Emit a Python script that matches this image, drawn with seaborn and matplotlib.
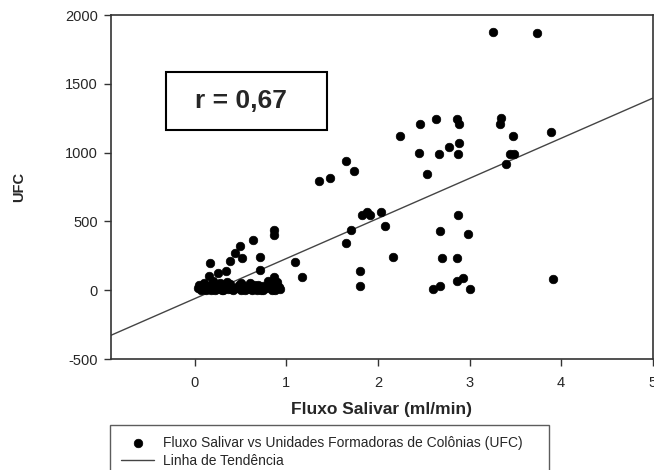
import numpy as np
import pandas as pd
import seaborn as sns
import matplotlib.pyplot as plt
from matplotlib.patches import Rectangle

# pontos: fluxo salivar (ml/min) e UFC
fluxo = [3.26, 3.74, 2.24, 2.46, 2.63, 2.86, 2.89, 3.34, 3.33, 3.48, 3.89,
         2.45, 2.67, 2.78, 2.89, 2.87, 2.54, 3.44, 3.49, 3.40,
         1.36, 1.48, 1.65, 1.74, 1.83, 1.88, 1.91, 2.03, 1.71, 2.08, 1.65,
         2.87, 2.68, 2.98, 1.09, 1.17, 1.80, 1.80, 2.16, 2.70, 2.86,
         2.60, 2.68, 2.86, 2.93, 3.01, 3.91,
         0.86, 0.86, 0.64, 0.49, 0.44, 0.52, 0.39, 0.17, 0.71, 0.71, 0.34,
         0.16, 0.25, 0.86,
         0.03, 0.05, 0.08, 0.10, 0.12, 0.14, 0.17, 0.19, 0.22, 0.25, 0.28,
         0.30, 0.33, 0.36, 0.39, 0.42, 0.45, 0.48, 0.51, 0.54, 0.57, 0.60,
         0.63, 0.66, 0.69, 0.72, 0.75, 0.78, 0.81, 0.84, 0.87, 0.90, 0.93,
         0.10, 0.20, 0.35, 0.50, 0.65, 0.80, 0.90,
         0.07, 0.15, 0.24, 0.31, 0.44, 0.55, 0.62, 0.74, 0.83, 0.88, 0.92,
         0.18, 0.40, 0.68]
ufc = [1879, 1871, 1121, 1206, 1242, 1242, 1206, 1249, 1206, 1123, 1150,
       999, 988, 1043, 1072, 988, 844, 990, 990, 915,
       796, 813, 941, 868, 547, 570, 547, 570, 437, 467, 345,
       544, 432, 408, 203, 100, 142, 33, 243, 234, 234,
       12, 33, 67, 86, 12, 79,
       438, 401, 365, 321, 268, 238, 214, 201, 241, 147, 140,
       107, 123, 96,
       20, 40, 10, 55, 5, 30, 15, 45, 0, 25, 50,
       5, 35, 10, 45, 0, 20, 40, 5, 30, 10, 50,
       0, 25, 40, 5, 30, 15, 45, 0, 35, 60, 10,
       15, 70, 60, 50, 40, 65, 20,
       5, 20, 10, 0, 15, 0, 10, 0, 20, 5, 25,
       0, 10, 0]

x_ticks = [0, 1, 2, 3, 4, 5]
y_ticks = [-500, 0, 500, 1000, 1500, 2000]
r_text = "r = 0,67"

df = pd.DataFrame({"fluxo": fluxo, "ufc": ufc})

sns.set_theme(style="ticks")
plt.rcParams['font.family'] = ['Liberation Sans', 'DejaVu Sans']
plt.rcParams['axes.unicode_minus'] = False

fig = plt.figure(figsize=(6.54, 4.70), dpi=100)
ax = fig.add_axes([0.169, 0.236, 0.829, 0.732])
ax.set_xlim(-0.92, 5.0)
ax.set_ylim(-500, 2000)

sns.scatterplot(data=df, x="fluxo", y="ufc", ax=ax, color="black", s=38,
                edgecolor="black", linewidth=0.5, zorder=3,
                label="Fluxo Salivar vs Unidades Formadoras de Colônias (UFC)")
sns.regplot(data=df, x="fluxo", y="ufc", ax=ax, scatter=False, ci=None,
            truncate=False, color="#444444", line_kws={"linewidth": 1.0},
            label="Linha de Tendência")
ax.set_xlim(-0.92, 5.0)
ax.set_ylim(-500, 2000)

ax.set_xticks(x_ticks)
ax.set_yticks(y_ticks)
ax.tick_params(direction="out", length=5, width=1, color="#333333",
               labelsize=10.5, pad=4)
ax.tick_params(axis="x", pad=7)
for sp in ax.spines.values():
    sp.set_visible(True)
    sp.set_color("#333333")
    sp.set_linewidth(1.2)

ax.set_xlabel("Fluxo Salivar (ml/min)", fontsize=12.5, fontweight="bold",
              labelpad=9)
ax.set_ylabel("UFC", fontsize=10.5, fontweight="bold", labelpad=28)

# caixa com o coeficiente
ax.add_patch(Rectangle((0.102, 0.666), 0.298, 0.168, transform=ax.transAxes,
                       fill=False, edgecolor="black", linewidth=1.5,
                       zorder=4))
ax.text(0.24, 0.75, r_text, transform=ax.transAxes, ha="center",
        va="center", fontsize=19, fontweight="bold")

ax.get_legend().remove()
h, l = ax.get_legend_handles_labels()
leg = fig.legend(h, l, loc="upper left", mode="expand",
                 bbox_to_anchor=(110 / 654, 0, (549 - 110) / 654, 1 - 425 / 470),
                 borderaxespad=0, fontsize=10, frameon=True, fancybox=False,
                 borderpad=0.8, handlelength=2.4, handletextpad=0.65,
                 labelspacing=0.3)
leg.get_frame().set_edgecolor("#333333")
leg.get_frame().set_linewidth(1.0)

fig.savefig("out.png", dpi=100)
